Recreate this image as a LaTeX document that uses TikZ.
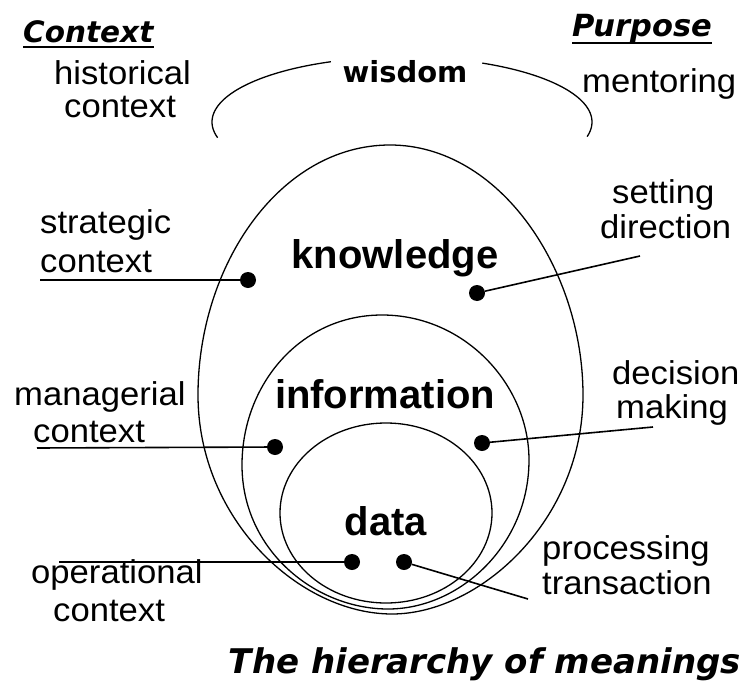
\documentclass[tikz,border=0pt]{standalone}
\usepackage{fontspec}
\setmainfont{Liberation Sans}
\newfontfamily\labfont[FakeStretch=1.05]{Liberation Sans}
\newfontfamily\vfont{DejaVu Sans}
\begin{document}
\begin{tikzpicture}[x=1pt,y=-1pt,
  lab/.style={anchor=base west, inner sep=0, font=\labfont\fontsize{33}{33}\selectfont},
  big/.style={anchor=base, inner sep=0, font=\bfseries\fontsize{40}{40}\selectfont},
  head/.style={anchor=base west, inner sep=0, font=\vfont\bfseries\itshape\fontsize{29.5}{30}\selectfont},
  dot/.style={circle, fill=black, inner sep=0, minimum size=16pt},
  conn/.style={line width=1.6pt},
  curve/.style={line width=1.3pt}]
\fill[white] (0,0) rectangle (742,688);
\useasboundingbox (0,0) rectangle (742,688);

% wisdom arcs
\draw[curve] plot[domain=112:194, samples=60, smooth] ({402+190*cos(\x)},{122-65*sin(\x)});
\draw[curve] plot[domain=-13:65, samples=60, smooth] ({402+190*cos(\x)},{122-65*sin(\x)});

% knowledge egg
\draw[curve] (390,145) .. controls (500,145) and (583,270) .. (583,395)
  .. controls (583,520) and (480,614) .. (392,614)
  .. controls (300,614) and (198,520) .. (198,395)
  .. controls (198,265) and (280,145) .. (390,145) -- cycle;
% information egg
\draw[curve] (382,315) .. controls (465,315) and (529,385) .. (529,460)
  .. controls (529,545) and (460,609) .. (388,609)
  .. controls (315,609) and (242,550) .. (242,465)
  .. controls (242,385) and (300,315) .. (382,315) -- cycle;
% data
\draw[curve] (386,513) ellipse [x radius=106, y radius=90];

% titles
\node[big] (kn) at (395,268) {knowledge};
\node[big] (inf) at (385,408) {information};
\node[big] (dat) at (386,535) {data};
\node[anchor=base, inner sep=0, font=\vfont\bfseries\fontsize{29}{29}\selectfont] (wis) at (405,82) {wisdom};

\node[head] (ctx) at (23,42) {Context};
\draw[line width=1.5pt] ([yshift=-5pt]ctx.base west) -- ([yshift=-5pt]ctx.base east);
\node[head, font=\vfont\bfseries\itshape\fontsize{30.5}{30}\selectfont] (pur) at (572,36) {Purpose};
\draw[line width=1.5pt] ([yshift=-7pt]pur.base west) -- ([yshift=-7pt]pur.base east);

\node[anchor=base, inner sep=0, font=\vfont\bfseries\itshape\fontsize{34}{34}\selectfont] (cap) at (485,673) {The hierarchy of meanings};

% labels
\node[lab] (h1) at (54,84) {historical};
\node[lab] (h2) at (64,117) {context};
\node[lab] (m1) at (582,92) {mentoring};
\node[lab] (s1) at (40,233) {strategic};
\node[lab] (s2) at (40,272) {context};
\node[lab] (d1) at (612,203) {setting};
\node[lab] (d2) at (600,238) {direction};
\node[lab] (g1) at (14,405) {managerial};
\node[lab] (g2) at (33,442) {context};
\node[lab] (e1) at (612,384) {decision};
\node[lab] (e2) at (616,418) {making};
\node[lab] (o1) at (31,583) {operational};
\node[lab] (o2) at (53,621) {context};
\node[lab] (p1) at (542,559) {processing};
\node[lab] (p2) at (542,594) {transaction};

% dots
\node[dot] (kl) at (248,280) {};
\node[dot] (kr) at (477,293) {};
\node[dot] (il) at (275,447) {};
\node[dot] (ir) at (482,443) {};
\node[dot] (dl) at (352,562) {};
\node[dot] (dr) at (404,562) {};

\coordinate (klend) at (40,280);
\coordinate (krend) at (640,256);
\coordinate (ilend) at (37,448);
\coordinate (irend) at (653,427);
\coordinate (dlend) at (59,562);
\coordinate (drend) at (528,599);

\draw[conn] (kl) -- (klend);
\draw[conn] (kr) -- (krend);
\draw[conn] (il) -- (ilend);
\draw[conn] (ir) -- (irend);
\draw[conn] (dl) -- (dlend);
\draw[conn] (dr) -- (drend);
\end{tikzpicture}
\end{document}
